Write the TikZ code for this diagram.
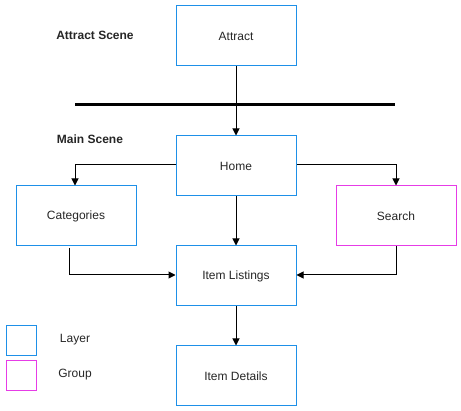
\documentclass[tikz,border=0pt]{standalone}
\usepackage{fontspec}
\setmainfont{Liberation Sans}
\usetikzlibrary{arrows.meta}
\definecolor{layerblue}{RGB}{30,144,232}
\definecolor{groupmag}{RGB}{230,60,230}
\begin{document}
\begin{tikzpicture}[x=1pt,y=-1pt,
  box/.style={draw=layerblue,line width=1pt,minimum width=120pt,minimum height=60pt,inner sep=0pt,font=\fontsize{12}{14}\selectfont,anchor=north west},
  grp/.style={box,draw=groupmag},
  legbox/.style={draw=layerblue,line width=1pt,minimum width=30pt,minimum height=30pt,inner sep=0pt,anchor=north west},
  lbl/.style={font=\fontsize{12}{14}\selectfont},
  title/.style={font=\bfseries\fontsize{12}{14}\selectfont},
  conn/.style={line width=1pt,-{Triangle[length=7pt,width=7pt]}},
  every node/.append style={text=black!85}]
\useasboundingbox (0,0) rectangle (461,411);
\node[box] (attract) at (175.5,5.5) {Attract};
\node[box] (home) at (175.5,135.5) {Home};
\node[box] (cat) at (15.5,185.5) {Categories};
\node[grp] (search) at (335.5,185.5) {Search};
\node[box] (list) at (175.5,245.5) {Item Listings};
\node[box] (det) at (175.5,345.5) {Item Details};
\node[title] (ats) at (95,35) {Attract Scene};
\node[title] (mss) at (90,139) {Main Scene};
\coordinate (la) at (75,105);
\coordinate (lb) at (395,105);
\draw[line width=3pt] (la) -- (lb);
\node[legbox] (leg1) at (5.5,325.5) {};
\node[legbox,draw=groupmag] (leg2) at (5.5,360.5) {};
\node[lbl] (legt1) at (75,340) {Layer};
\node[lbl] (legt2) at (75,375) {Group};
\draw[conn] (attract) -- (home);
\draw[conn] (home.west|-0,165) -| (cat.north-|75,0);
\draw[conn] (home.east|-0,165) -| (search.north);
\draw[conn] (home) -- (list);
\coordinate (cs) at (69,248);
\draw[conn] (cs) |- (list.west|-0,275);
\draw[conn] (search.south) |- (list.east|-0,275);
\draw[conn] (list) -- (det);
\end{tikzpicture}
\end{document}
